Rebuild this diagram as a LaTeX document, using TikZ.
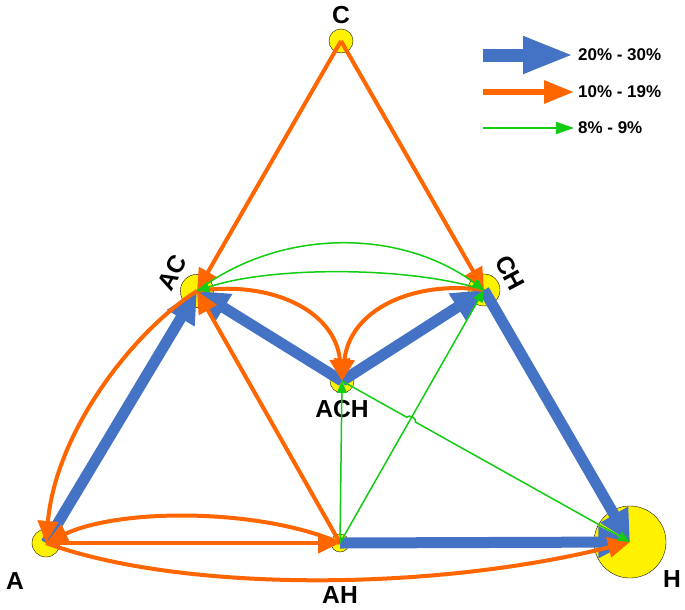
\documentclass[tikz,border=0pt]{standalone}
\usepackage{fontspec}
\setmainfont{Liberation Sans}
\usetikzlibrary{arrows.meta,calc}
\definecolor{flowblue}{HTML}{4472C4}
\definecolor{floworange}{HTML}{FF6600}
\definecolor{flowgreen}{HTML}{11CC11}
\begin{document}
\begin{tikzpicture}[x=0.03cm, y=-0.03cm,
  st/.style={circle, draw=black, line width=0.3pt, fill=yellow, inner sep=0pt, minimum size=#1},
  lbl/.style={font=\fontsize{21}{21}\selectfont\bfseries, inner sep=1pt},
  big/.style={draw=flowblue, line width=0.33cm, -{Triangle[length=0.95cm,width=0.9cm]}},
  mid/.style={draw=floworange, line width=0.12cm, -{Triangle[length=0.66cm,width=0.6cm]}},
  low/.style={draw=flowgreen, line width=0.045cm, -{Triangle[length=0.36cm,width=0.3cm]}},
  leg/.style={anchor=west, font=\fontsize{14.5}{14.5}\selectfont\bfseries}]
  \useasboundingbox (0,0) rectangle (685,609);
  % states
  \node[st=0.72cm] (c) at (341,41) {};
  \node[st=1.0cm] (ac) at (197,291) {};
  \node[st=0.96cm] (ch) at (484,290) {};
  \node[st=0.72cm] (ach) at (342,381) {};
  \node[st=0.84cm] (a) at (46,543) {};
  \node[st=0.54cm] (ah) at (340,543) {};
  \node[st=2.16cm] (h) at (630,542) {};
  \node[lbl] (cl) at (341,15) {C};
  \node[lbl, rotate=62] (acl) at (172,273) {AC};
  \node[lbl, rotate=-62] (chl) at (510,273) {CH};
  \node[lbl] (achl) at (342,409) {ACH};
  \node[lbl] (al) at (15,581) {A};
  \node[lbl] (ahl) at (340,595) {AH};
  \node[lbl] (hl) at (672,579) {H};
  % 20% - 30%
  \draw[big] (a.center) -- (ac.center);
  \draw[big] (ach.center) -- (ac.center);
  \draw[big] (ach.center) -- (ch.center);
  \draw[big] (ch.center) -- (h.center);
  \draw[big] (ah.center) -- (h.center);
  % 10% - 19%
  \draw[mid] (c.center) -- (ac.center);
  \draw[mid] (c.center) -- (ch.center);
  \draw[mid] (ah.center) -- (ac.center);
  \draw[mid] (ac.center) .. controls (135,330) and (56,430) .. (a.center);
  \draw[mid] (ac.center) .. controls (270,280) and (335,310) .. (ach.center);
  \draw[mid] (ch.center) .. controls (412,280) and (350,310) .. (ach.center);
  \draw[mid] (a.center) -- (ah.center);
  \draw[mid] (ah.center) .. controls (260,508) and (120,508) .. (a.center);
  \draw[mid] (a.center) .. controls (180,592) and (430,592) .. (h.center);
  % 8% - 9%
  \draw[low] (ac.center) .. controls (280,228) and (400,228) .. (ch.center);
  \draw[low] (ch.center) .. controls (410,266) and (270,266) .. (ac.center);
  \draw[low] (ah.center) -- (ach.center);
  \draw[low] (ah.center) -- (ch.center);
  \draw[low] (ach.center) -- ($(ach.center)!0.225!(h.center)$) to[bend left=90] ($(ach.center)!0.255!(h.center)$) -- (h.center);
  % legend
  \foreach \y/\col/\lw/\hl/\hw/\txt [count=\i] in {55/flowblue/0.39/1.53/1.02/{20\% - 30\%}, 92/floworange/0.18/0.9/0.66/{10\% - 19\%}, 128/flowgreen/0.045/0.54/0.36/{8\% - 9\%}} {
    \coordinate (k\i) at (483,\y);
    \node[leg] (t\i) at (574,\y) {\txt};
    \draw[draw=\col, line width=\lw cm, -{Triangle[length=\hl cm,width=\hw cm]}] (k\i) -- (t\i.west);
  }
\end{tikzpicture}
\end{document}
